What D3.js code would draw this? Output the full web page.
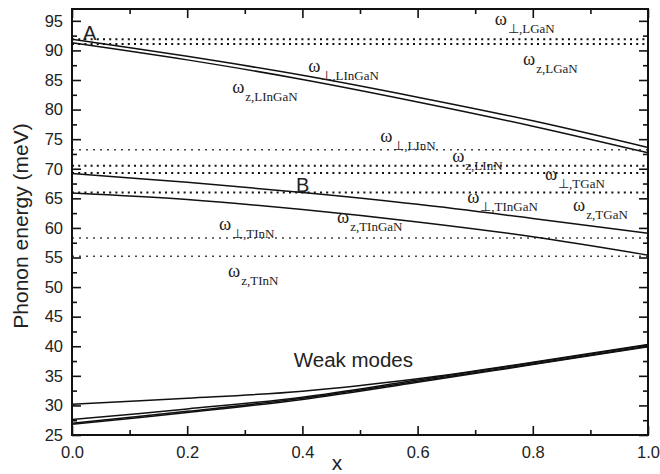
<!DOCTYPE html>
<html>
<head>
<meta charset="utf-8">
<script src="https://cdn.jsdelivr.net/npm/d3@7"></script>
<style>
  body { margin: 0; background: #fff; }
  svg { display: block; }
  .tick text { font-family: "Liberation Sans", Arial, sans-serif; font-size: 16.5px; fill: #222; }
  .lbl { font-family: "Liberation Serif", "Times New Roman", serif; fill: #222; }
</style>
</head>
<body>
<div id="chart"></div>
<script>
// composition x of InGaN
const xs = [0, 0.2, 0.4, 0.6, 0.8, 1.0];

// strong InGaN modes (meV)
const lPerp = [91.9, 89.0, 85.8, 82.1, 78.1, 73.6];
const lZ    = [91.3, 88.4, 85.1, 81.3, 77.2, 72.7];
const tPerp = [69.2, 67.7, 66.0, 64.0, 61.6, 59.1];
const tZ    = [65.9, 64.8, 63.1, 61.0, 58.5, 55.4];

// weak modes
const weak1 = [30.2, 31.2, 32.4, 34.5, 37.3, 40.3];
const weak2 = [27.6, 29.4, 31.4, 34.3, 37.2, 40.2];
const weak3 = [27.0, 29.0, 31.2, 34.1, 37.0, 40.0];
const weak4 = [26.8, 28.8, 31.0, 33.9, 36.9, 39.9];

// bulk GaN / InN reference energies (dotted)
const bulkBold  = [91.9, 91.1, 70.5, 69.3, 66.0];
const bulkFaint = [73.2, 58.3, 55.2];

const yTicks = d3.range(25, 96, 5);
const xTicks = [0, 0.2, 0.4, 0.6, 0.8, 1.0];

// mode labels, anchored in data units
const modeLabels = [
  { sub: "\u22A5,LGaN",   x: 0.734, y: 94.3 },
  { sub: "z,LGaN",        x: 0.783, y: 87.6 },
  { sub: "\u22A5,LInGaN", x: 0.410, y: 86.4 },
  { sub: "z,LInGaN",      x: 0.278, y: 82.8 },
  { sub: "\u22A5,LInN",   x: 0.535, y: 74.5 },
  { sub: "z,LInN",        x: 0.660, y: 71.2 },
  { sub: "\u22A5,TGaN",   x: 0.821, y: 68.1 },
  { sub: "z,TGaN",        x: 0.870, y: 62.9 },
  { sub: "\u22A5,TInGaN", x: 0.686, y: 64.2 },
  { sub: "z,TInGaN",      x: 0.460, y: 60.8 },
  { sub: "\u22A5,TInN",   x: 0.255, y: 59.7 },
  { sub: "z,TInN",        x: 0.271, y: 51.7 }
];
const pointLabels = [
  { text: "A", x: 0.019, y: 91.8 },
  { text: "B", x: 0.389, y: 66.1 }
];

const width = 660, height = 474;
const margin = { top: 9, right: 12, bottom: 39, left: 72 };

const svg = d3.select("#chart").append("svg")
  .attr("width", width)
  .attr("height", height);

const x = d3.scaleLinear().domain([0, 1]).range([margin.left, width - margin.right]);
const y = d3.scaleLinear().domain([25, 97]).range([height - margin.bottom, margin.top]);

// dotted bulk lines
svg.selectAll("line.bold").data(bulkBold).join("line")
  .attr("class", "bold")
  .attr("x1", x(0)).attr("x2", x(1))
  .attr("y1", d => y(d)).attr("y2", d => y(d))
  .attr("stroke", "#111").attr("stroke-width", 2)
  .attr("stroke-dasharray", "2,4.2");

svg.selectAll("line.faint").data(bulkFaint).join("line")
  .attr("class", "faint")
  .attr("x1", x(0)).attr("x2", x(1))
  .attr("y1", d => y(d)).attr("y2", d => y(d))
  .attr("stroke", "#444").attr("stroke-width", 1.4)
  .attr("stroke-dasharray", "2,5");

// solid mode curves
const line = d3.line()
  .x((d, i) => x(xs[i]))
  .y(d => y(d))
  .curve(d3.curveCatmullRom.alpha(0.5));

const series = [lPerp, lZ, tPerp, tZ, weak1, weak2, weak3, weak4];
svg.selectAll("path.mode").data(series).join("path")
  .attr("class", "mode")
  .attr("d", line)
  .attr("fill", "none")
  .attr("stroke", "#111")
  .attr("stroke-width", 1.5);

// axes, ticks inward
const yMajor = d3.axisLeft(y).tickValues(yTicks).tickSize(-9).tickPadding(9).tickSizeOuter(0);
const yMinor = d3.axisLeft(y).tickValues(d3.range(27.5, 97, 5)).tickSize(-5).tickFormat("").tickSizeOuter(0);
const yMajorR = d3.axisRight(y).tickValues(yTicks).tickSize(-9).tickFormat("").tickSizeOuter(0);
const yMinorR = d3.axisRight(y).tickValues(d3.range(27.5, 97, 5)).tickSize(-5).tickFormat("").tickSizeOuter(0);
const xMajor = d3.axisBottom(x).tickValues(xTicks).tickSize(-9).tickPadding(11).tickFormat(d3.format(".1f")).tickSizeOuter(0);
const xMinor = d3.axisBottom(x).tickValues([0.1, 0.3, 0.5, 0.7, 0.9]).tickSize(-5).tickFormat("").tickSizeOuter(0);
const xMajorT = d3.axisTop(x).tickValues(xTicks).tickSize(-9).tickFormat("").tickSizeOuter(0);
const xMinorT = d3.axisTop(x).tickValues([0.1, 0.3, 0.5, 0.7, 0.9]).tickSize(-5).tickFormat("").tickSizeOuter(0);

const L = margin.left, R = width - margin.right, B = height - margin.bottom, T = margin.top;
[[yMajor, `translate(${L},0)`], [yMinor, `translate(${L},0)`],
 [yMajorR, `translate(${R},0)`], [yMinorR, `translate(${R},0)`],
 [xMajor, `translate(0,${B})`], [xMinor, `translate(0,${B})`],
 [xMajorT, `translate(0,${T})`], [xMinorT, `translate(0,${T})`]]
  .forEach(([ax, tr]) => {
    const g = svg.append("g").attr("transform", tr).call(ax);
    g.select(".domain").remove();
    g.selectAll(".tick line").attr("stroke", "#111").attr("stroke-width", 1.6);
  });

svg.append("rect")
  .attr("x", L).attr("y", T)
  .attr("width", R - L).attr("height", B - T)
  .attr("fill", "none").attr("stroke", "#111").attr("stroke-width", 2);

// axis titles
svg.append("text")
  .attr("transform", `translate(28,${(T + B) / 2 + 4}) rotate(-90)`)
  .attr("text-anchor", "middle")
  .style("font-family", "Liberation Sans, Arial, sans-serif")
  .style("font-size", "21px").style("fill", "#222")
  .text("Phonon energy (meV)");

svg.append("text")
  .attr("x", 337).attr("y", 470)
  .attr("text-anchor", "middle")
  .style("font-family", "Liberation Sans, Arial, sans-serif")
  .style("font-size", "21px").style("fill", "#222")
  .text("x");

// A, B markers
svg.selectAll("text.pt").data(pointLabels).join("text")
  .attr("class", "pt")
  .attr("x", d => x(d.x)).attr("y", d => y(d.y))
  .style("font-family", "Liberation Sans, Arial, sans-serif")
  .style("font-size", "20px").style("fill", "#222")
  .text(d => d.text);

svg.append("text")
  .attr("x", x(0.385)).attr("y", y(36.5))
  .style("font-family", "Liberation Sans, Arial, sans-serif")
  .style("font-size", "20.5px").style("fill", "#222")
  .text("Weak modes");

// omega labels with subscripts
const lbl = svg.selectAll("text.lbl").data(modeLabels).join("text")
  .attr("class", "lbl")
  .attr("x", d => x(d.x)).attr("y", d => y(d.y));
lbl.append("tspan").style("font-size", "18.5px").text("\u03C9");
lbl.append("tspan").style("font-size", "13px").attr("dx", 1).attr("dy", 8).text(d => d.sub);
</script>
</body>
</html>
